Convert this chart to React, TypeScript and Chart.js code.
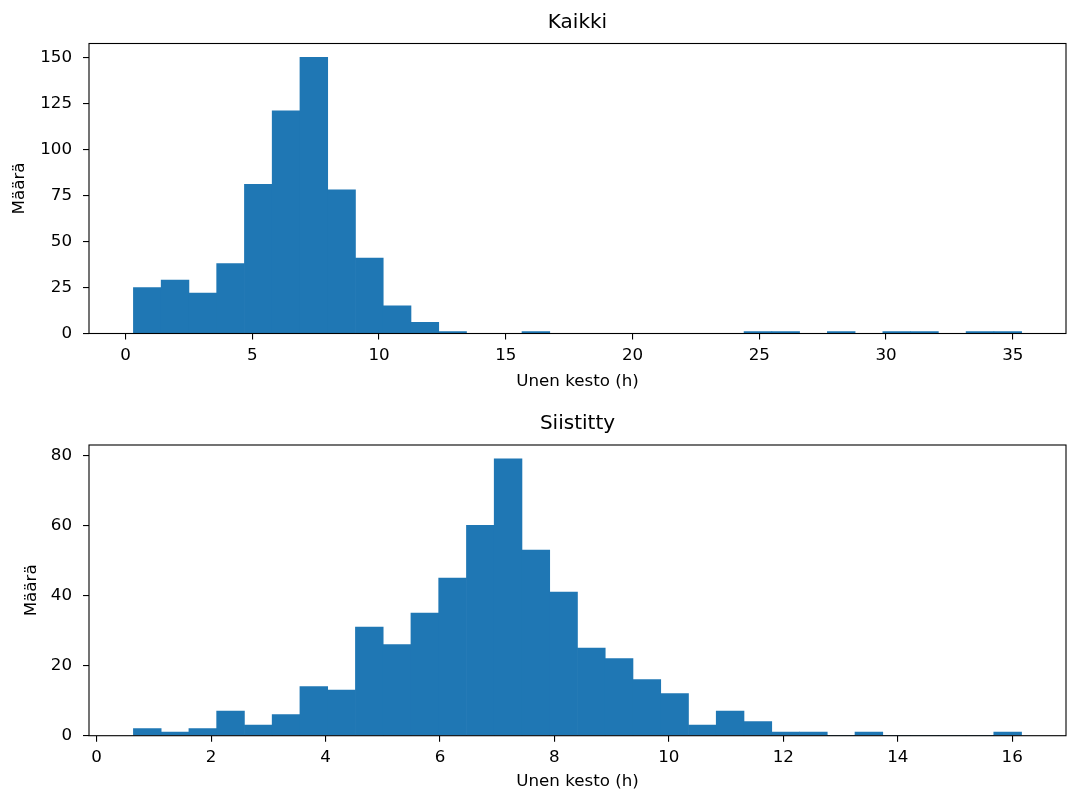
import React, { useEffect, useRef } from "react";
import { Chart, registerables } from "chart.js";

Chart.register(...registerables);

// ---- Data ----
const allEdges = [
  0.31, 1.405, 2.5, 3.595, 4.69, 5.785, 6.88, 7.975, 9.07, 10.165, 11.26, 12.355,
  13.45, 14.545, 15.64, 16.735, 17.83, 18.925, 20.02, 21.115, 22.21, 23.305, 24.4,
  25.495, 26.59, 27.685, 28.78, 29.875, 30.97, 32.065, 33.16, 34.255, 35.35,
];
const allCounts = [
  25, 29, 22, 38, 81, 121, 150, 78, 41, 15, 6, 1, 0, 0, 1, 0, 0, 0, 0, 0, 0, 0, 1, 1,
  0, 1, 0, 1, 1, 0, 1, 1,
];
const cleanEdges = [
  0.643, 1.128, 1.613, 2.098, 2.583, 3.068, 3.553, 4.038, 4.523, 5.008, 5.493, 5.978,
  6.463, 6.948, 7.433, 7.918, 8.403, 8.888, 9.373, 9.858, 10.343, 10.828, 11.313,
  11.798, 12.283, 12.768, 13.253, 13.738, 14.223, 14.708, 15.193, 15.678, 16.163,
];
const cleanCounts = [
  2, 1, 2, 7, 3, 6, 14, 13, 31, 26, 35, 45, 60, 79, 53, 41, 25, 22, 16, 12, 3, 7, 4,
  1, 1, 0, 1, 0, 0, 0, 0, 1,
];
const allXTicks = [0, 5, 10, 15, 20, 25, 30, 35];
const allYTicks = [0, 25, 50, 75, 100, 125, 150];
const cleanXTicks = [0, 2, 4, 6, 8, 10, 12, 14, 16];
const cleanYTicks = [0, 20, 40, 60, 80];

const titleAll = "Kaikki";
const titleClean = "Siistitty";
const xLabel = "Unen kesto (h)";
const yLabel = "Määrä";

const FONT = "'DejaVu Sans', 'Liberation Sans', sans-serif";
const BAR = "#1f77b4";
const TICK_SIZE = 16.7;
const TITLE_SIZE = 20;

type Cfg = {
  title: string;
  edges: number[];
  counts: number[];
  xTicks: number[];
  yTicks: number[];
  xMin: number;
  xMax: number;
  yMax: number;
  height: number;
  areaTop: number;
  titleY: number;
  xAxisHeight: number;
  xTitlePadBottom: number;
  yTitlePadTop: number;
};

const framePlugin = {
  id: "frame",
  afterDatasetsDraw(chart: any) {
    const { ctx, chartArea } = chart;
    const { left, top, right, bottom } = chartArea;
    ctx.save();
    ctx.strokeStyle = "#000";
    ctx.lineWidth = 1.1;
    ctx.strokeRect(left, top, right - left, bottom - top);
    ctx.restore();
  },
};

const axesTitlePlugin = {
  id: "axesTitle",
  afterDraw(chart: any, _args: any, opts: any) {
    const { ctx, chartArea } = chart;
    ctx.save();
    ctx.fillStyle = "#000";
    ctx.font = `normal ${TITLE_SIZE}px ${FONT}`;
    ctx.textAlign = "center";
    ctx.textBaseline = "middle";
    ctx.fillText(opts.text, (chartArea.left + chartArea.right) / 2, opts.y);
    ctx.restore();
  },
};

function HistChart({ cfg }: { cfg: Cfg }) {
  const ref = useRef<HTMLCanvasElement | null>(null);
  useEffect(() => {
    if (!ref.current) return;
    const points = cfg.counts.map((c, i) => ({
      x: (cfg.edges[i] + cfg.edges[i + 1]) / 2,
      y: c,
    }));
    const gridOpts = {
      display: true,
      drawOnChartArea: false,
      drawTicks: true,
      tickLength: 6,
      offset: false,
      color: "#000",
      lineWidth: 1.1,
    };
    const chart = new Chart(ref.current, {
      type: "bar",
      data: {
        datasets: [
          {
            data: points as any,
            backgroundColor: BAR,
            borderWidth: 0,
            barPercentage: 1,
            categoryPercentage: 1,
          },
        ],
      },
      options: {
        animation: false,
        responsive: false,
        devicePixelRatio: 1,
        layout: { padding: { left: 0, right: 1, top: cfg.areaTop, bottom: 0 } },
        plugins: {
          legend: { display: false },
          tooltip: { enabled: false },
          title: { display: false },
          axesTitle: { text: cfg.title, y: cfg.titleY },
        } as any,
        scales: {
          x: {
            type: "linear",
            min: cfg.xMin,
            max: cfg.xMax,
            bounds: "data",
            offset: false,
            afterBuildTicks: (s: any) => {
              s.ticks = cfg.xTicks.map((v) => ({ value: v }));
            },
            afterFit: (s: any) => {
              s.height = cfg.xAxisHeight;
            },
            grid: gridOpts,
            border: { display: false },
            ticks: {
              color: "#000",
              font: { family: FONT, size: TICK_SIZE },
              padding: 6,
              maxRotation: 0,
              autoSkip: false,
              callback: (v: any) => String(v),
            },
            title: {
              display: true,
              text: xLabel,
              color: "#000",
              font: { family: FONT, size: TICK_SIZE },
              padding: { top: 0, bottom: cfg.xTitlePadBottom },
            },
          } as any,
          y: {
            type: "linear",
            min: 0,
            max: cfg.yMax,
            bounds: "data",
            afterBuildTicks: (s: any) => {
              s.ticks = cfg.yTicks.map((v) => ({ value: v }));
            },
            afterFit: (s: any) => {
              s.width = 89;
            },
            grid: gridOpts,
            border: { display: false },
            ticks: {
              color: "#000",
              font: { family: FONT, size: TICK_SIZE },
              padding: 11,
              autoSkip: false,
              callback: (v: any) => String(v),
            },
            title: {
              display: true,
              text: yLabel,
              color: "#000",
              font: { family: FONT, size: TICK_SIZE },
              padding: { top: cfg.yTitlePadTop, bottom: 0 },
            },
          } as any,
        },
      },
      plugins: [framePlugin, axesTitlePlugin],
    });
    return () => chart.destroy();
  }, [cfg]);
  return (
    <canvas
      ref={ref}
      width={1067}
      height={cfg.height}
      style={{ display: "block", width: 1067, height: cfg.height }}
    />
  );
}

const topCfg: Cfg = {
  title: titleAll,
  edges: allEdges,
  counts: allCounts,
  xTicks: allXTicks,
  yTicks: allYTicks,
  xMin: -1.442,
  xMax: 37.1,
  yMax: 157.5,
  height: 400,
  areaTop: 43.5,
  titleY: 22.5,
  xAxisHeight: 66.5,
  xTitlePadBottom: 8,
  yTitlePadTop: 10,
};

const bottomCfg: Cfg = {
  title: titleClean,
  edges: cleanEdges,
  counts: cleanCounts,
  xTicks: cleanXTicks,
  yTicks: cleanYTicks,
  xMin: -0.133,
  xMax: 16.94,
  yMax: 82.95,
  height: 393,
  areaTop: 45,
  titleY: 23.5,
  xAxisHeight: 57.3,
  xTitlePadBottom: 1,
  yTitlePadTop: 22,
};

export default function App() {
  return (
    <div
      style={{
        position: "absolute",
        left: 0,
        top: 0,
        width: 1067,
        height: 793,
        background: "#fff",
      }}
    >
      <HistChart cfg={topCfg} />
      <HistChart cfg={bottomCfg} />
    </div>
  );
}
